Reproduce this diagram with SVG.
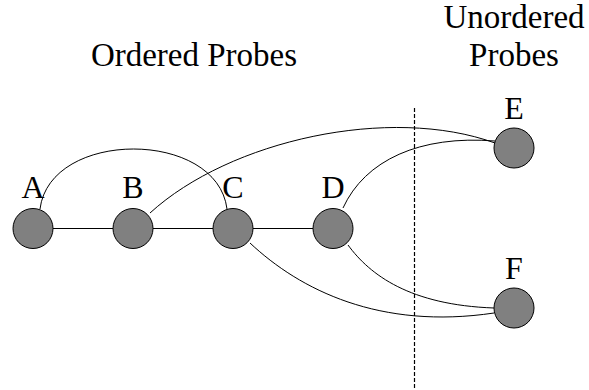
<svg xmlns="http://www.w3.org/2000/svg" width="589" height="390" viewBox="0 0 589 390">
<style>
.t{font-family:"Liberation Serif","Times New Roman",serif;fill:#000;text-anchor:middle}
.h{font-size:33px}
.l{font-size:32px}
.n{fill:#808080;stroke:#000;stroke-width:1}
.e{fill:none;stroke:#000;stroke-width:1}
</style>
<rect width="589" height="390" fill="#fff"/>
<g id="headers">
<text class="t h" x="194" y="66">Ordered Probes</text>
<text class="t h" x="514" y="28">Unordered</text>
<text class="t h" x="514" y="66">Probes</text>
</g>
<line id="divider" x1="414.5" y1="108" x2="414.5" y2="388" stroke="#000" stroke-width="1.2" stroke-dasharray="4,2"/>
<g id="connectors">
<line class="e" x1="33" y1="228.5" x2="333" y2="228.5"/>
<path class="e" d="M40,209 C50,129 217,129 227,209"/>
<path class="e" d="M150,213 C230,140 390,105 495,143"/>
<path class="e" d="M343,208 C365,160 420,135 495,141"/>
<path class="e" d="M250,243 C300,290 380,330 494,313"/>
<path class="e" d="M348,245 C370,275 410,305 494,308"/>
</g>
<g id="node-A"><circle class="n" cx="33" cy="228.5" r="20"/><text class="t l" x="33" y="198">A</text></g>
<g id="node-B"><circle class="n" cx="133" cy="228.5" r="20"/><text class="t l" x="133" y="198">B</text></g>
<g id="node-C"><circle class="n" cx="233" cy="228.5" r="20"/><text class="t l" x="233" y="198">C</text></g>
<g id="node-D"><circle class="n" cx="333" cy="228.5" r="20"/><text class="t l" x="333" y="198">D</text></g>
<g id="node-E"><circle class="n" cx="514" cy="148" r="20"/><text class="t l" x="514" y="119">E</text></g>
<g id="node-F"><circle class="n" cx="514" cy="308" r="20"/><text class="t l" x="514" y="279">F</text></g>
</svg>
